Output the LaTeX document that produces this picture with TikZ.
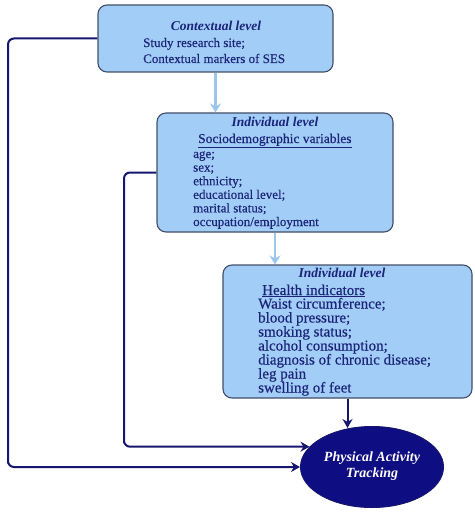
\documentclass[tikz,border=0pt]{standalone}
\usepackage{fontspec}
\setmainfont{Liberation Serif}
\newfontfamily\bodyfont{Liberation Serif}[FakeBold=0.35]
\usetikzlibrary{arrows.meta,shapes.geometric}
\definecolor{txtnavy}{HTML}{1A2478}
\definecolor{boxfill}{HTML}{A2CDF7}
\definecolor{boxedge}{HTML}{424E68}
\definecolor{lightarrow}{HTML}{9CC6EC}
\definecolor{ellfill}{HTML}{0E0E82}
\definecolor{connnavy}{HTML}{16166E}
\begin{document}
\begin{tikzpicture}[x=1pt,y=-1pt,
  lvlbox/.style={draw=boxedge,line width=1.1pt,fill=boxfill,rounded corners=9pt,inner sep=0pt},
  heading/.style={font=\fontsize{13.5}{16}\selectfont\bfseries\itshape,text=txtnavy,anchor=base,inner sep=0pt},
  linetxt/.style={font=\bodyfont\fontsize{13}{16}\selectfont,text=txtnavy,anchor=base west,inner sep=0pt},
  bigtxt/.style={font=\bodyfont\fontsize{15}{16}\selectfont,text=txtnavy,anchor=base west,inner sep=0pt},
  lightarr/.style={draw=lightarrow,line width=2.8pt,-{Stealth[length=9pt,width=11pt,inset=3pt]}},
  conn/.style={draw=connnavy,line width=2pt,rounded corners=6pt,-{Stealth[length=9pt,width=10pt,inset=3pt]}}]
\useasboundingbox (0,0) rectangle (474,513);
% boxes
\node[lvlbox,minimum width=235pt,minimum height=67pt] (ctx) at (215.5,38.5) {};
\node[lvlbox,minimum width=236pt,minimum height=119pt] (soc) at (275,172.5) {};
\node[lvlbox,minimum width=249pt,minimum height=133pt] (hea) at (347.5,331.5) {};
\node[ellipse,draw=connnavy,line width=1pt,fill=ellfill,minimum width=143pt,minimum height=81pt,inner sep=0pt] (pat) at (372,467) {};
% box 1 text
\node[heading] (h1) at (216,31) {Contextual level};
\node[linetxt] (t11) at (143,47) {Study research site;};
\node[linetxt] (t12) at (143,63) {Contextual markers of SES};
% box 2 text
\node[heading] (h2) at (275,127) {Individual level};
\node[linetxt,font=\bodyfont\fontsize{13.5}{16}\selectfont] (s2) at (198,143) {\underline{Sociodemographic variables}};
\foreach \t [count=\i] in {age;,sex;,ethnicity;,educational level;,marital status;,occupation/employment}
  \node[linetxt] (t2\i) at (193,{158+13.6*(\i-1)}) {\t};
% box 3 text
\node[heading] (h3) at (342,277) {Individual level};
\node[bigtxt] (s3) at (262,295) {\underline{Health indicators}};
\foreach \t [count=\i] in {Waist circumference;,blood pressure;,smoking status;,alcohol consumption;,diagnosis of chronic disease;,leg pain,swelling of feet}
  \node[bigtxt] (t3\i) at (258,{308.5+14*(\i-1)}) {\t};
% ellipse text
\node[font=\fontsize{14}{16}\selectfont\bfseries\itshape,text=white,align=center,inner sep=0pt] (pt) at (372,466) {Physical Activity\\Tracking};
% connectors
\draw[lightarr] (ctx.south) -- (ctx.south |- soc.north);
\draw[lightarr] (soc.south) -- (soc.south |- hea.north);
\draw[conn] (hea.south) -- ([yshift=-2pt]hea.south |- pat.north);
\coordinate (c1) at (pat.west -| 8,0);
\coordinate (c2) at (pat.162 -| 124,0);
\draw[conn] (ctx.west) -| (c1) |- (pat.west);
\draw[conn] (soc.west) -| (c2) |- (pat.162);
\end{tikzpicture}
\end{document}
